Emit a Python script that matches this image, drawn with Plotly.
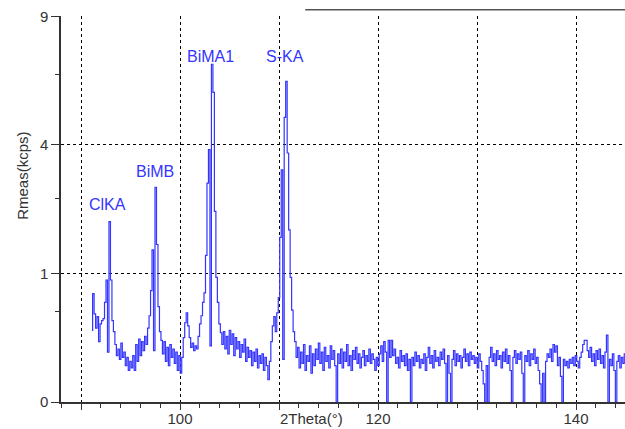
import numpy as np
import plotly.graph_objects as go

# ---- data (counts in kcps, scan start/step in degrees 2Theta) ----
scan_start = 91.1
scan_step = 0.15
rmeas_kcps = [
    0.31, 0.71, 0.47, 0.33, 0.44, 0.22, 0.37, 0.40, 0.42, 0.60,
    0.90, 0.15, 1.97, 0.90, 0.40, 0.30,
    0.20, 0.13, 0.17, 0.11, 0.21, 0.12, 0.15, 0.08, 0.12, 0.06,
    0.10, 0.07, 0.13, 0.06, 0.20, 0.10, 0.24, 0.13, 0.22, 0.16,
    0.26, 0.20, 0.33, 0.45, 0.75,
    1.40, 0.16, 2.79, 1.50, 0.55, 0.30, 0.23,
    0.14, 0.22, 0.10, 0.18, 0.08, 0.20, 0.12, 0.17, 0.09, 0.15,
    0.06, 0.13, 0.05,
    0.12, 0.25, 0.38, 0.48, 0.35, 0.25, 0.18, 0.21, 0.16, 0.19,
    0.17, 0.26, 0.37, 0.45, 0.60, 0.72,
    1.30, 2.90, 3.85, 0.19, 6.90, 5.80, 2.20, 0.94, 0.60, 0.37, 0.29,
    0.20, 0.30, 0.17, 0.26, 0.14, 0.31, 0.20, 0.28, 0.13, 0.25,
    0.17, 0.22, 0.12, 0.20, 0.15, 0.24, 0.10, 0.18, 0.12, 0.16,
    0.08, 0.15, 0.10, 0.17, 0.07, 0.13, 0.09, 0.14, 0.06, 0.12,
    0.08, 0.03, 0.10,
    0.22, 0.35, 0.44, 0.30, 0.48, 0.66,
    1.64, 3.26, 0.11, 4.90, 6.22, 3.75, 1.79, 0.94, 0.51, 0.30, 0.22,
    0.12, 0.18, 0.07, 0.15, 0.09, 0.20, 0.06, 0.13, 0.10, 0.19,
    0.05, 0.14, 0.08, 0.17, 0.11, 0.21, 0.09, 0.15, 0.06, 0.18,
    0.10, 0.13, 0.07, 0.19, 0.11, 0.16, 0.08, 0.00, 0.14, 0.09,
    0.17, 0.07, 0.15, 0.10, 0.20, 0.08, 0.13, 0.06, 0.16, 0.11,
    0.18, 0.09, 0.14, 0.07, 0.12, 0.16, 0.08, 0.13, 0.10, 0.17,
    0.09, 0.14, 0.11, 0.06, 0.12, 0.08,
    0.14, 0.19, 0.10, 0.22, 0.15, 0.00, 0.23, 0.12, 0.23, 0.13,
    0.17, 0.09, 0.12, 0.07, 0.16, 0.10, 0.13, 0.08, 0.14, 0.06,
    0.11, 0.00, 0.12, 0.08, 0.15, 0.10, 0.13, 0.07, 0.11, 0.09,
    0.14, 0.06, 0.12, 0.18, 0.09, 0.13, 0.07, 0.16, 0.10, 0.12,
    0.08, 0.15, 0.11, 0.17, 0.09, 0.00, 0.13, 0.05, 0.00, 0.11,
    0.16, 0.08, 0.14, 0.10, 0.13, 0.07, 0.12, 0.17, 0.10, 0.14,
    0.08, 0.15, 0.11, 0.13, 0.09, 0.12, 0.07, 0.14, 0.10, 0.06,
    0.02, 0.00, 0.08, 0.00, 0.12, 0.18, 0.10, 0.14, 0.08, 0.16,
    0.11, 0.13, 0.07, 0.15, 0.10, 0.17, 0.09, 0.13, 0.06, 0.00,
    0.12, 0.16, 0.09, 0.14, 0.11, 0.15, 0.05, 0.00, 0.13, 0.10,
    0.16, 0.08, 0.14, 0.11, 0.17, 0.09, 0.12, 0.06, 0.02, 0.00,
    0.05, 0.00, 0.10, 0.14, 0.12, 0.17, 0.10, 0.20, 0.15, 0.19,
    0.08, 0.12, 0.04, 0.00, 0.11, 0.08, 0.10, 0.07, 0.11, 0.09,
    0.12, 0.08, 0.13, 0.10, 0.07, 0.12, 0.15, 0.20, 0.23, 0.23,
    0.16, 0.12, 0.18, 0.10, 0.14, 0.08, 0.16, 0.11, 0.17, 0.09,
    0.13, 0.07, 0.15, 0.27, 0.00, 0.11, 0.08, 0.14, 0.06, 0.00,
    0.10, 0.13, 0.07, 0.12, 0.09, 0.14, 0.10,
]

peak_labels = ["ClKA", "BiMB", "BiMA1", "S-KA"]
peak_label_theta = [92.7, 97.5, 103.1, 110.6]
peak_label_kcps = [2.37, 3.20, 7.24, 7.24]

x_major_ticks = [90, 100, 110, 120, 130, 140]
x_major_text = ["", "100", "", "120", "", "140"]
y_tick_kcps = [0, 1, 4, 9]
y_minor_kcps = [0.5, 2.5, 6.5]

FONT = "Arial, Liberation Sans, sans-serif"
BLUE = "#3535ff"
GREY = "#333333"

fig = go.Figure()
fig.add_trace(go.Scatter(
    x0=scan_start, dx=scan_step,
    y=np.sqrt(rmeas_kcps),
    mode="lines",
    line=dict(color=BLUE, width=1.2, shape="hvh"),
    hoverinfo="skip",
    showlegend=False,
))

for lab, th, kc in zip(peak_labels, peak_label_theta, peak_label_kcps):
    fig.add_annotation(x=th, y=float(np.sqrt(kc)), xref="x", yref="y",
                       text=lab, showarrow=False,
                       font=dict(family=FONT, size=16, color=BLUE))

fig.add_annotation(x=0.445, y=-0.043, xref="paper", yref="paper",
                   text="2Theta(°)", showarrow=False,
                   xanchor="center", yanchor="middle",
                   font=dict(family=FONT, size=15, color=GREY))
fig.add_annotation(x=-0.068, y=0.585, xref="paper", yref="paper",
                   text="Rmeas(kcps)", showarrow=False, textangle=-90,
                   xanchor="center", yanchor="middle",
                   font=dict(family=FONT, size=15, color=GREY))

fig.add_shape(type="line", xref="paper", yref="paper",
              x0=0.433, x1=1.0, y0=1.016, y1=1.016,
              line=dict(color="#555555", width=1.5))

fig.update_xaxes(
    range=[87.98, 144.95], automargin=False,
    tickmode="array", tickvals=x_major_ticks, ticktext=x_major_text,
    ticks="outside", ticklen=6, tickcolor=GREY, tickwidth=1,
    ticklabelstandoff=-4,
    showgrid=True, gridcolor="black", griddash="dot", gridwidth=1,
    showline=True, linecolor=GREY, linewidth=1.5,
    zeroline=False,
    minor=dict(tickmode="linear", tick0=0, dtick=2, ticks="outside",
               ticklen=4, tickcolor=GREY, showgrid=False),
    tickfont=dict(family=FONT, size=15, color=GREY),
)
fig.update_yaxes(
    range=[0, 3.002], automargin=False,
    tickmode="array", tickvals=[float(np.sqrt(v)) for v in y_tick_kcps],
    ticktext=[str(v) for v in y_tick_kcps],
    ticks="outside", ticklen=8, tickcolor=GREY, tickwidth=1,
    showgrid=True, gridcolor="black", griddash="3px,3px", gridwidth=1,
    showline=True, linecolor=GREY, linewidth=1.5,
    zeroline=False,
    minor=dict(tickmode="array", tickvals=[float(np.sqrt(v)) for v in y_minor_kcps],
               ticks="outside", ticklen=4, tickcolor=GREY, showgrid=False),
    tickfont=dict(family=FONT, size=15, color=GREY),
)

fig.update_layout(
    width=625, height=429,
    margin=dict(l=61, r=0, t=16, b=27, autoexpand=False),
    paper_bgcolor="white", plot_bgcolor="white",
)

fig.write_html("out.html", config={"displayModeBar": False},
               post_script="document.body.style.margin='0';document.body.style.overflow='hidden';")
